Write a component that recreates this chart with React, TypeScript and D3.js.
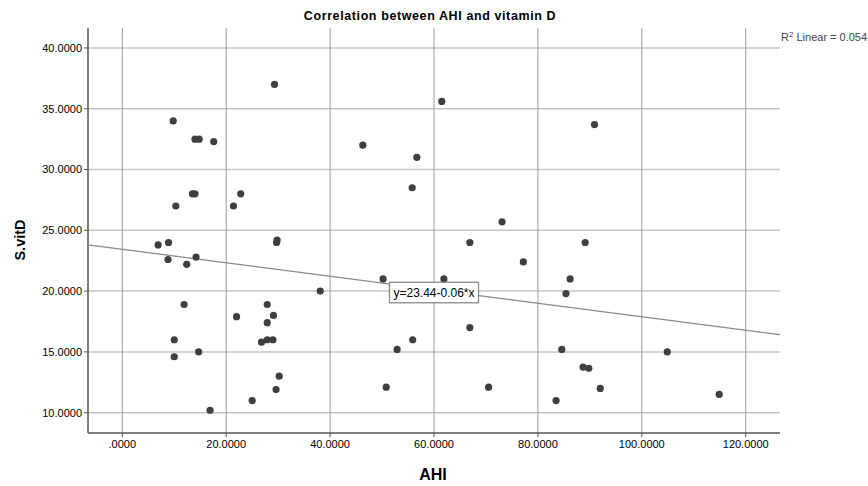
import React from "react";
import * as d3 from "d3";

const ahi: number[] = [
  9.8, 14.0, 14.8, 17.6, 13.5, 14.0, 10.3, 21.4, 22.8, 6.9,
  8.9, 8.8, 12.4, 14.2, 29.8, 29.7, 38.1, 11.9, 22.0, 27.9,
  29.1, 27.9, 26.8, 27.9, 29.0, 10.0, 10.0, 14.7, 30.2, 29.6,
  25.0, 16.9, 29.3, 61.5, 46.3, 56.7, 55.8, 73.1, 66.9, 89.1,
  77.2, 90.9, 50.2, 61.9, 86.2, 85.4, 66.9, 55.9, 52.9, 84.6,
  50.8, 70.5, 88.7, 89.8, 92.0, 83.5, 104.9, 114.9,
];
const vitD: number[] = [
  34.0, 32.5, 32.5, 32.3, 28.0, 28.0, 27.0, 27.0, 28.0, 23.8,
  24.0, 22.6, 22.2, 22.8, 24.2, 24.0, 20.0, 18.9, 17.9, 18.9,
  18.0, 17.4, 15.8, 16.0, 16.0, 16.0, 14.6, 15.0, 13.0, 11.9,
  11.0, 10.2, 37.0, 35.6, 32.0, 31.0, 28.5, 25.7, 24.0, 24.0,
  22.4, 33.7, 21.0, 21.0, 21.0, 19.8, 17.0, 16.0, 15.2, 15.2,
  12.1, 12.1, 13.75, 13.65, 12.0, 11.0, 15.0, 11.5,
];
const xTicks: number[] = [0, 20, 40, 60, 80, 100, 120];
const yTicks: number[] = [10, 15, 20, 25, 30, 35, 40];
const intercept = 23.44;
const slope = -0.0555;
const title = "Correlation between AHI and vitamin D";
const xTitle = "AHI";
const yTitle = "S.vitD";
const eqLabel = "y=23.44-0.06*x";
const r2Value = "0.054";

const W = 868;
const H = 486;
const L = 88, R = 780, T = 28, B = 433;
const FONT = "'Liberation Sans', Arial, Helvetica, sans-serif";

export default function App() {
  const x = d3.scaleLinear().domain([-6.6, 126.6]).range([L, R]);
  const y = d3.scaleLinear().domain([8.33, 41.64]).range([B, T]);
  const fmt = (v: number) => {
    const s = v.toFixed(4);
    return s.startsWith("0.") ? s.slice(1) : s;
  };
  const x0 = x.domain()[0], x1 = x.domain()[1];
  const lineGen = d3.line<number>().x((d) => x(d)).y((d) => y(intercept + slope * d));
  const eqX = x(60), eqY = y(intercept + slope * 60) + 3;
  return (
    <svg width={W} height={H} style={{ position: "absolute", left: 0, top: 0, background: "#fff" }} fontFamily={FONT}>
      <rect x={0} y={0} width={W} height={H} fill="#fff" />
      <text x={430} y={20} textAnchor="middle" fontSize={12.5} letterSpacing={0.6} fontWeight="bold" fill="#000">{title}</text>
      {yTicks.map((t) => (
        <line key={"h" + t} x1={L} x2={R} y1={y(t)} y2={y(t)} stroke="#c4c4c4" strokeWidth={1.5} />
      ))}
      {xTicks.map((t) => (
        <line key={"v" + t} x1={x(t)} x2={x(t)} y1={T} y2={B} stroke="#9a9a9a" strokeWidth={1} />
      ))}
      <line x1={L} x2={L} y1={T} y2={B} stroke="#555" strokeWidth={1.5} />
      <line x1={L} x2={R} y1={B} y2={B} stroke="#555" strokeWidth={1.5} />
      {yTicks.map((t) => (
        <g key={"yt" + t}>
          <line x1={L - 4} x2={L} y1={y(t)} y2={y(t)} stroke="#555" strokeWidth={1} />
          <text x={82} y={y(t)} dy="0.35em" textAnchor="end" fontSize={11} fill="#000">{fmt(t)}</text>
        </g>
      ))}
      {xTicks.map((t) => (
        <g key={"xt" + t}>
          <line x1={x(t)} x2={x(t)} y1={B} y2={B + 4} stroke="#555" strokeWidth={1} />
          <text x={x(t)} y={448} textAnchor="middle" fontSize={11} fill="#000">{fmt(t)}</text>
        </g>
      ))}
      <text x={433} y={480} textAnchor="middle" fontSize={16} fontWeight="bold" fill="#000">{xTitle}</text>
      <text transform={`translate(25,240) rotate(-90)`} textAnchor="middle" fontSize={14.5} fontWeight="bold" fill="#000">{yTitle}</text>
      <path d={lineGen([x0, x1]) || ""} fill="none" stroke="#8a8a8a" strokeWidth={1.3} />
      {ahi.map((a, i) => (
        <circle key={i} cx={x(a)} cy={y(vitD[i])} r={3.6} fill="#3f3f3f" />
      ))}
      <rect x={eqX - 44.5} y={eqY - 10.5} width={89} height={20.5} fill="#fff" stroke="#8a8a8a" strokeWidth={1.3} />
      <text x={eqX} y={eqY + 4.5} textAnchor="middle" fontSize={12} fill="#000">{eqLabel}</text>
      <text x={781} y={41} fontSize={11} fill="#444">
        R<tspan dy={-4} fontSize={8}>2</tspan><tspan dy={4}>{" Linear = " + r2Value}</tspan>
      </text>
    </svg>
  );
}
